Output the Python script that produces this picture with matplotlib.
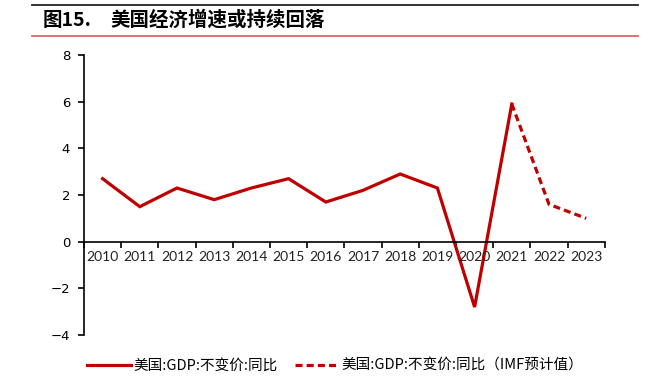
import numpy as np
import matplotlib
matplotlib.use("Agg")
import matplotlib.pyplot as plt
from matplotlib.lines import Line2D

plt.rcParams['font.family'] = ['Noto Sans CJK SC', 'DejaVu Sans']

years = ['2010', '2011', '2012', '2013', '2014', '2015', '2016',
         '2017', '2018', '2019', '2020', '2021', '2022', '2023']
gdp_actual = [2.7, 1.5, 2.3, 1.8, 2.3, 2.7, 1.7, 2.2, 2.9, 2.3, -2.8, 5.9]
gdp_forecast = [5.9, 1.6, 1.0]  # 2021 actual + IMF 2022, 2023

title_num = '图15.'
title = '美国经济增速或持续回落'
label_actual = '美国:GDP:不变价:同比'
label_forecast = '美国:GDP:不变价:同比（IMF预计值）'

red = '#C00000'
dash = (0, (2.2, 1.3))

fig = plt.figure(figsize=(6.49, 3.76), dpi=100)
ax = fig.add_axes([0.1294, 0.109, 0.8025, 0.7447])

x_act = np.arange(len(gdp_actual))
x_fc = np.arange(len(gdp_actual) - 1, len(gdp_actual) - 1 + len(gdp_forecast))
ax.plot(x_act, gdp_actual, color=red, lw=2.3, solid_joinstyle='miter')
ax.plot(x_fc, gdp_forecast, color=red, lw=2.3, ls=dash)

ax.set_xlim(-0.5, len(years) - 0.5)
ax.set_ylim(-4, 8)
ax.set_yticks(range(-4, 9, 2))
ax.set_yticklabels(['−4', '−2', '0', '2', '4', '6', '8'],
                   family=['DejaVu Sans'], fontsize=9.5)

ax.spines['top'].set_visible(False)
ax.spines['right'].set_visible(False)
ax.spines['bottom'].set_position(('data', 0))
for s in ('left', 'bottom'):
    ax.spines[s].set_linewidth(1.2)

ax.set_xticks(np.arange(-0.5, len(years), 1.0))
ax.set_xticklabels([])
ax.tick_params(axis='x', direction='out', length=4, width=1.2)
ax.tick_params(axis='y', direction='out', length=4, width=1.2, pad=6)
for i, yr in enumerate(years):
    ax.text(i, -0.4, yr, ha='center', va='top', fontsize=10,
            family=['Lato', 'DejaVu Sans'], color='#222222')

# header lines and title
fig.add_artist(Line2D([32 / 649, 638 / 649], [1 - 4.5 / 376] * 2, color='#222222', lw=1.3))
fig.add_artist(Line2D([32 / 649, 638 / 649], [1 - 35.5 / 376] * 2, color='#E06666', lw=1.3))
fig.text(43 / 649, 1 - 20 / 376, title_num, fontsize=14, fontweight='bold', va='center', ha='left')
fig.text(110 / 649, 1 - 20 / 376, title, fontsize=14, fontweight='bold', va='center', ha='left')

# legend, two entries placed separately
leg_kw = dict(loc='center left', frameon=False, fontsize=10.5, handlelength=3.0,
              handletextpad=0.2, borderpad=0, borderaxespad=0)
leg1 = fig.legend([Line2D([], [], color=red, lw=2.3)], [label_actual],
                  bbox_to_anchor=(87 / 649, 1 - 366 / 376), **leg_kw)
leg2 = fig.legend([Line2D([], [], color=red, lw=2.3, ls=dash)], [label_forecast],
                  bbox_to_anchor=(295 / 649, 1 - 366 / 376), **leg_kw)

fig.savefig('out.png', dpi=100)
